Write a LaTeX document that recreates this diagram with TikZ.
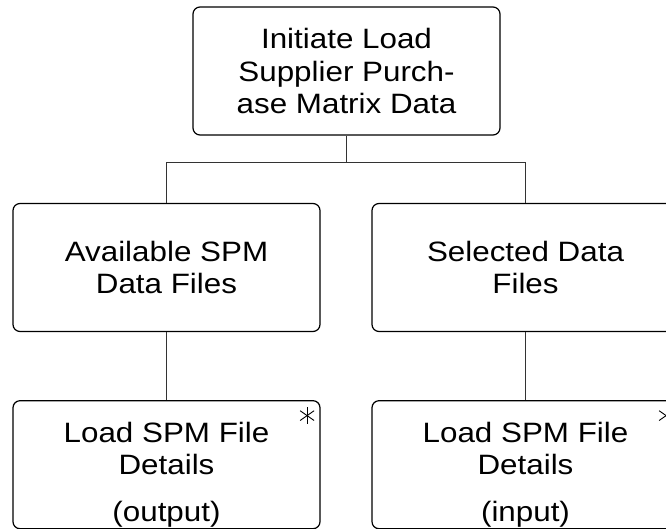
\documentclass[tikz,border=0pt]{standalone}
\usepackage{fontspec}
\setmainfont[FakeStretch=1.12]{Liberation Sans}
\usetikzlibrary{positioning}

\begin{document}
\begin{tikzpicture}[
  x=1pt, y=-1pt,
  procbox/.style={draw=black, line width=1.2pt, rounded corners=7pt, fill=white,
    minimum width=307pt, minimum height=128pt, align=center, inner sep=2pt,
    font=\fontsize{28}{32.5}\selectfont},
  boxtext/.style={align=center, inner sep=0pt, font=\fontsize{28}{32}\selectfont},
  link/.style={draw=black!80, line width=1pt},
  starline/.style={draw=black, line width=0.9pt}
]
  \useasboundingbox (0,0) rectangle (666,528);
  \clip (0,0) rectangle (666,528);

  % Boxes
  \node[procbox] (init)   at (346.5, 71)    {Initiate Load\\Supplier Purch-\\ase Matrix Data};
  \node[procbox] (avail)  at (166.5, 267.5) {Available SPM\\Data Files};
  \node[procbox] (select) at (525.5, 267.5) {Selected Data\\Files};
  \node[procbox, below=68pt of avail]  (loadOut) {};
  \node[procbox, below=68pt of select] (loadIn)  {};

  \node[boxtext] (outTxt) at ([yshift=-10pt]loadOut.center) {Load SPM File\\Details\\[15pt](output)};
  \node[boxtext] (inTxt)  at ([yshift=-10pt]loadIn.center)  {Load SPM File\\Details\\[15pt](input)};

  % Connectors
  \coordinate (bus) at (0,162);
  \draw[link] (init.south) -- (init.south |- bus);
  \draw[link] (avail.north) -- (avail.north |- bus) -- (select.north |- bus) -- (select.north);
  \draw[link] (avail.south) -- (loadOut.north);
  \draw[link] (select.south) -- (loadIn.north);

  % Asterisk marks
  \node[inner sep=0pt] (outStar) at ([xshift=-13.5pt,yshift=-15.5pt]loadOut.north east) {};
  \node[inner sep=0pt] (inStar)  at ([xshift=-13.5pt,yshift=-15.5pt]loadIn.north east)  {};
  \foreach \s in {outStar,inStar} {
    \foreach \a in {90,35,145} {
      \draw[starline] (\s) ++(\a:8.5pt) -- ++(\a+180:17pt);
    }
  }
\end{tikzpicture}
\end{document}
